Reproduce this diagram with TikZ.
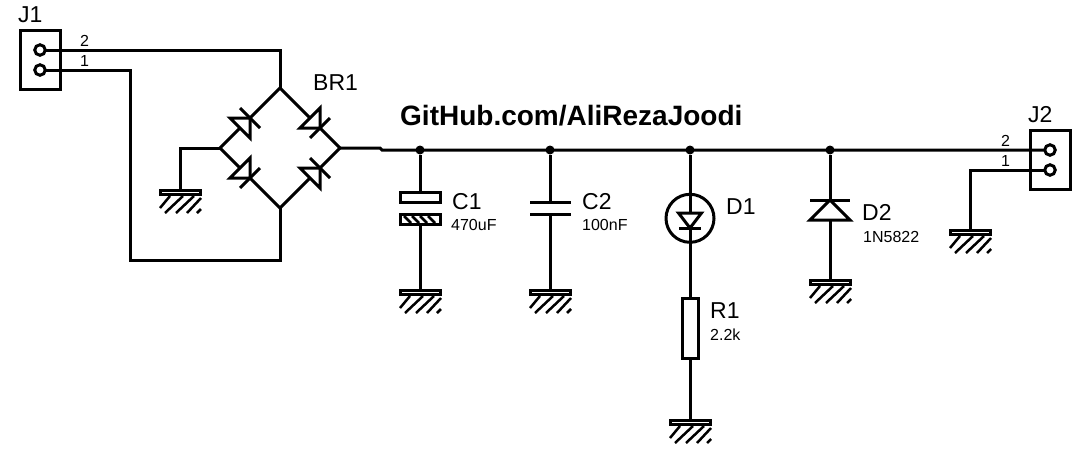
\documentclass[tikz,border=0pt]{standalone}
\usepackage{fontspec}
\setmainfont{Liberation Sans}
\tikzset{
  wire/.style={line width=3pt},
  part/.style={draw,line width=3pt,minimum size=0pt,inner sep=0pt,outer sep=0pt},
  pin/.style={part,circle,fill=white,minimum size=10.5pt},
  dot/.style={circle,fill=black,minimum size=9pt,inner sep=0pt},
  partname/.style={font=\fontsize{23}{23}\selectfont,anchor=base west,inner sep=0pt},
  partval/.style={font=\fontsize{16}{16}\selectfont,anchor=base west,inner sep=0pt},
  pics/gnd/.style={code={
    \foreach \a/\b/\c/\d in {-20/18/-10/6,-15/23/3/6,-4/23/14/6,7/23/21/8,17/23/21/19} {
      \draw [line width=2.5pt] (\a,\b) -- (\c,\d);
    }
    \draw [wire,fill=white] (-19.2,0.7) rectangle (20.5,4.9);
  }},
  pics/diode/.style={code={
    \draw [wire,fill=white,line join=miter] (0,0) -- (-#1,-#1) -- (-#1,#1) -- cycle;
    \draw [wire] (0,-#1) -- (0,#1);
  }}
}
\begin{document}
\begin{tikzpicture}[x=1pt,y=-1pt]
  \useasboundingbox (0,0) rectangle (1081,461);
  % connectors
  \node [part,minimum width=40pt,minimum height=59pt] (J1) at (40.5,60) {};
  \node [part,minimum width=40pt,minimum height=59pt] (J2) at (1050.5,160) {};
  \node [pin] (J1b) at (40,50) {};
  \node [pin] (J1a) at (40,70) {};
  \node [pin] (J2b) at (1050,150) {};
  \node [pin] (J2a) at (1050,170) {};
  \node [partname] (J1t) at (18,22.7) {J1};
  \node [partname] (J2t) at (1028,122.7) {J2};
  \node [partval] (J1n2) at (80,46.7) {2};
  \node [partval] (J1n1) at (80,66.7) {1};
  \node [partval] (J2n2) at (1001,146.7) {2};
  \node [partval] (J2n1) at (1001,166.7) {1};
  % bridge
  \coordinate (top) at (280,88);
  \coordinate (left) at (220,148);
  \coordinate (right) at (340,148);
  \coordinate (bottom) at (280,208);
  \draw [wire] (top) -- (right) -- (bottom) -- (left) -- cycle;
  \path (320,128) pic [rotate=-45] {diode=14.14};
  \path (250,118) pic [rotate=45] {diode=14.14};
  \path (250,178) pic [rotate=-45] {diode=14.14};
  \path (320,168) pic [rotate=45] {diode=14.14};
  \node [partname] (BR1) at (313,90.7) {BR1};
  % bus
  \coordinate (jog1) at (380,148);
  \coordinate (jog2) at (382,150);
  \node [dot] (n1) at (420,150) {};
  \node [dot] (n2) at (550,150) {};
  \node [dot] (n3) at (690,150) {};
  \node [dot] (n4) at (830,150) {};
  \draw [wire] (right) -- (jog1) -- (jog2) -- (J2b);
  \node [font=\fontsize{28}{28}\selectfont\bfseries,anchor=base west,inner sep=0pt] (title) at (400,125) {GitHub.com/AliRezaJoodi};
  % input wires
  \coordinate (w2) at (280,50);
  \coordinate (w1) at (130,70);
  \coordinate (w0) at (130,260);
  \coordinate (w3) at (280,260);
  \draw [wire] (J1b) -- (w2) -- (top);
  \draw [wire] (J1a) -- (w1) -- (w0) -- (w3) -- (bottom);
  % grounds
  \coordinate (g0) at (180,190);
  \coordinate (g1) at (420,290);
  \coordinate (g2) at (550,290);
  \coordinate (g3) at (690,420);
  \coordinate (g4) at (830,280);
  \coordinate (g5) at (970,230);
  \foreach \g in {g0,g1,g2,g3,g4,g5} {
    \path (\g) pic {gnd};
  }
  \coordinate (w4) at (180,148);
  \draw [wire] (left) -- (w4) -- (g0);
  \coordinate (w5) at (970,170);
  \draw [wire] (J2a) -- (w5) -- (g5);
  % C1
  \node [part,minimum width=40pt,minimum height=9.5pt] (C1a) at (420,197.3) {};
  \node [part,minimum width=40pt,minimum height=9.5pt] (C1b) at (420,219.5) {};
  \foreach \x in {404,412,420,428} {
    \draw [line width=2.5pt] (\x,216) -- (\x+7,223);
  }
  \draw [wire] (n1) -- (C1a);
  \draw [wire] (C1b) -- (g1);
  \node [partname] (C1) at (452,209) {C1};
  \node [partval] (C1v) at (451,230.7) {470uF};
  % C2
  \coordinate (C2a) at (550,202);
  \coordinate (C2b) at (550,214);
  \draw [wire] (530,202) -- (571,202);
  \draw [wire] (530,214) -- (571,214);
  \draw [wire] (n2) -- (C2a);
  \draw [wire] (C2b) -- (g2);
  \node [partname] (C2) at (582,209) {C2};
  \node [partval] (C2v) at (582,230.7) {100nF};
  % D1 and R1
  \node [part,circle,minimum size=48pt] (D1c) at (690,218.3) {};
  \node [part,minimum width=16pt,minimum height=60pt] (R1) at (690,328.7) {};
  \draw [wire] (n3) -- (R1);
  \draw [wire] (R1) -- (g3);
  \draw [wire,fill=white] (678.5,213) -- (701.5,213) -- (690,228) -- cycle;
  \draw [wire] (679,228) -- (701,228);
  \node [partname] (D1) at (726,214) {D1};
  \node [partname] (R1t) at (710,318.7) {R1};
  \node [partval] (R1v) at (710,340.7) {2.2k};
  % D2
  \draw [wire] (n4) -- (g4);
  \path (830,200) pic [rotate=90] {diode=20};
  \node [partname] (D2) at (862,220.7) {D2};
  \node [partval] (D2v) at (863,242.7) {1N5822};
\end{tikzpicture}
\end{document}
